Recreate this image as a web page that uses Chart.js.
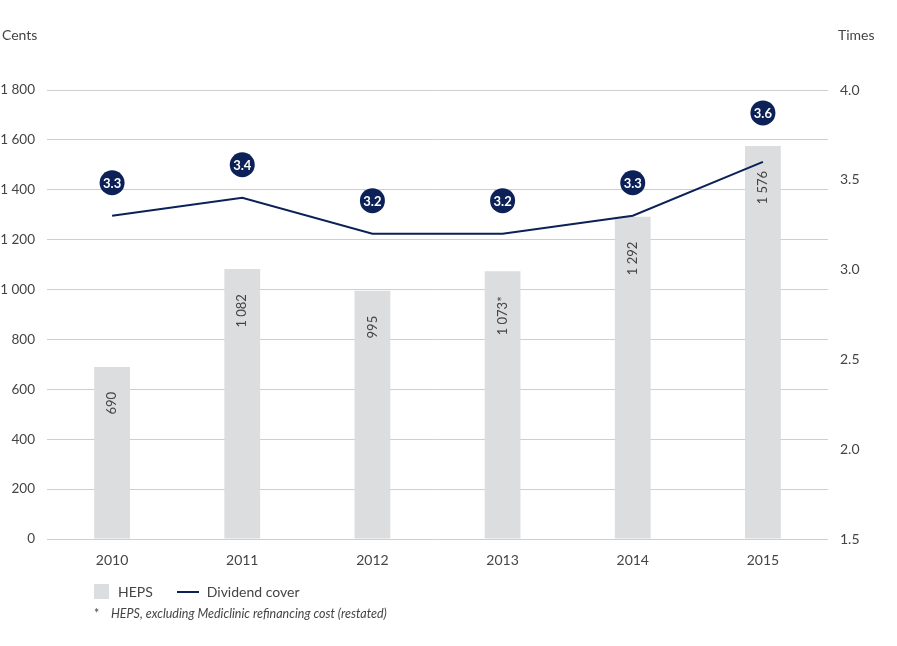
<!DOCTYPE html>
<html>
<head>
<meta charset="utf-8">
<script src="https://cdn.jsdelivr.net/npm/chart.js@4/dist/chart.umd.min.js"></script>
<style>
  body { margin: 0; background: #fff; font-family: Lato, "Open Sans", sans-serif; color: #444; }
  #wrap { position: relative; width: 897px; height: 646px; }
  canvas { position: absolute; left: 0; top: 0; }
  .lbl { position: absolute; font-size: 14px; color: #444; }
  .legend { position: absolute; top: 583px; left: 94px; font-size: 14px; color: #444; display: flex; align-items: center; }
  .sw-bar { display: inline-block; width: 15px; height: 15px; background: #dcdddf; margin-right: 9px; }
  .sw-line { display: inline-block; width: 22px; height: 2px; background: #0b2157; margin: 0 8px 0 24px; }
  .note { position: absolute; top: 606px; left: 94px; font-size: 12.5px; font-style: italic; color: #444; }
  .note span { display: inline-block; width: 17px; font-style: normal; }
</style>
</head>
<body>
<div id="wrap">
  <canvas id="chartCanvas" width="897" height="646"></canvas>
  <div class="lbl" style="left:2px; top:26px;">Cents</div>
  <div class="lbl" style="left:838px; top:26px;">Times</div>
  <div class="legend"><span class="sw-bar"></span>HEPS<span class="sw-line"></span>Dividend cover</div>
  <div class="note"><span>*</span>HEPS, excluding Mediclinic refinancing cost (restated)</div>
</div>
<script>
// ------- Data -------
const years = ["2010", "2011", "2012", "2013", "2014", "2015"];
const heps = [690, 1082, 995, 1073, 1292, 1576];
const hepsLabels = ["690", "1 082", "995", "1 073*", "1 292", "1 576"];
const dividendCover = [3.3, 3.4, 3.2, 3.2, 3.3, 3.6];

const NAVY = "#0b2157";
const BAR_GREY = "#dcdddf";
const TEXT = "#444";

const fmtThousands = (v) => String(v).replace(/\B(?=(\d{3})+(?!\d))/g, " ");

// labels inside bars + circled values over the line
const labelPlugin = {
  id: "labels",
  afterDatasetsDraw(chart) {
    const ctx = chart.ctx;
    const lineMeta = chart.getDatasetMeta(0);
    const barMeta = chart.getDatasetMeta(1);
    ctx.save();
    ctx.font = "13px Lato, sans-serif";
    ctx.fillStyle = TEXT;
    barMeta.data.forEach((bar, i) => {
      ctx.save();
      ctx.translate(bar.x, bar.y + 25);
      ctx.rotate(-Math.PI / 2);
      ctx.textAlign = "right";
      ctx.textBaseline = "middle";
      ctx.fillText(hepsLabels[i], 0, 0);
      ctx.restore();
    });
    lineMeta.data.forEach((pt, i) => {
      // keep the badge clear of the bar top
      const cx = pt.x, cy = Math.min(pt.y, barMeta.data[i].y) - 33;
      ctx.beginPath();
      ctx.arc(cx, cy, 12.5, 0, Math.PI * 2);
      ctx.fillStyle = NAVY;
      ctx.fill();
      ctx.fillStyle = "#fff";
      ctx.font = "bold 13px Lato, sans-serif";
      ctx.textAlign = "center";
      ctx.textBaseline = "middle";
      ctx.fillText(dividendCover[i].toFixed(1), cx, cy + 1);
    });
    ctx.restore();
  }
};

new Chart(document.getElementById("chartCanvas"), {
  data: {
    labels: years,
    datasets: [
      { type: "line", label: "Dividend cover", data: dividendCover, yAxisID: "y1",
        borderColor: NAVY, borderWidth: 2, pointRadius: 0, tension: 0, order: 0 },
      { type: "bar", label: "HEPS", data: heps, yAxisID: "y",
        backgroundColor: BAR_GREY, barPercentage: 1, categoryPercentage: 0.275, order: 1 },
    ],
  },
  options: {
    responsive: false,
    animation: false,
    layout: { padding: { top: 90, left: 0, right: 0, bottom: 0 } },
    plugins: { legend: { display: false }, tooltip: { enabled: false } },
    scales: {
      x: {
        grid: { display: false, drawTicks: false },
        border: { display: false },
        ticks: { color: TEXT, font: { family: "Lato", size: 14 }, padding: 13 },
        afterFit: (s) => { s.height = 107; },
      },
      y: {
        position: "left",
        min: 0, max: 1800,
        ticks: { stepSize: 200, color: TEXT, font: { family: "Lato", size: 13.5 }, padding: 12,
                 callback: (v) => fmtThousands(v) },
        grid: { color: "#cfcfcf", lineWidth: 1, drawTicks: false },
        border: { display: false },
        afterFit: (s) => { s.width = 47; },
      },
      y1: {
        position: "right",
        min: 1.5, max: 4.0,
        ticks: { stepSize: 0.5, color: TEXT, font: { family: "Lato", size: 14 }, padding: 12,
                 callback: (v) => v.toFixed(1) },
        grid: { display: false, drawTicks: false },
        border: { display: false },
        afterFit: (s) => { s.width = 69; },
      },
    },
  },
  plugins: [labelPlugin],
});
</script>
</body>
</html>
